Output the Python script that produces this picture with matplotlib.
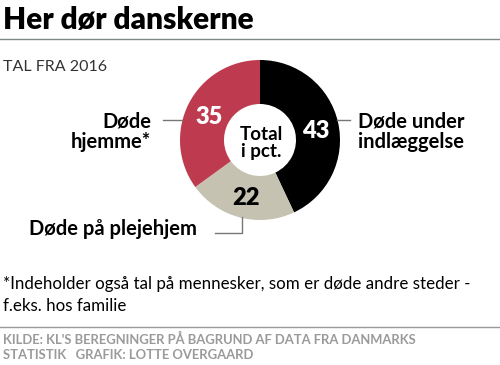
import numpy as np
import matplotlib.pyplot as plt

plt.rcParams['font.family'] = ['Lato', 'DejaVu Sans']

# data
kategorier = ['Døde under\nindlæggelse', 'Døde på plejehjem', 'Døde\nhjemme*']
andele = [43, 22, 35]
farver = ['#000000', '#c5c2b1', '#be3b4f']
tal_farver = ['white', 'black', 'white']

H = 365
def Y(y):
    return H - y

fig = plt.figure(figsize=(5, 3.65), dpi=100)
ax = fig.add_axes([0, 0, 1, 1])

cx, cy, R = 260, 140, 80
wedges, _ = ax.pie(andele, colors=farver, startangle=90, counterclock=False,
                   radius=R, center=(cx, Y(cy)), wedgeprops=dict(width=44, linewidth=0))
ax.set_xlim(0, 500); ax.set_ylim(0, H); ax.axis('off')

for w, v, c in zip(wedges, andele, tal_farver):
    a = np.deg2rad((w.theta1 + w.theta2) / 2)
    ax.text(cx + 57 * np.cos(a), Y(cy) + 57 * np.sin(a) - 3, str(v), color=c,
            fontsize=17, fontweight='heavy', ha='center', va='center')

ax.text(cx + 1, Y(cy + 3), 'Total\ni pct.', fontsize=13.5, fontweight='bold',
        ha='center', va='center', linespacing=1.0)

# labels and leader lines
ax.text(358, Y(132), kategorier[0], fontsize=14.5, fontweight='bold', ha='left', va='center', linespacing=1.0)
ax.plot([337, 350], [Y(120), Y(120)], color='#777777', lw=1)
ax.text(151, Y(132), kategorier[2], fontsize=14.5, fontweight='bold', ha='right', va='center', linespacing=1.0)
ax.plot([163, 182], [Y(120), Y(120)], color='#777777', lw=1)
ax.text(197, Y(229), kategorier[1], fontsize=14.5, fontweight='bold', ha='right', va='center')
ax.plot([215, 242, 242], [Y(233), Y(233), Y(217)], color='#777777', lw=1)

# header
ax.text(3, Y(20), 'Her dør danskerne', fontsize=21.5, fontweight='heavy', ha='left', va='center')
ax.plot([0, 500], [Y(39), Y(39)], color='#7f8a86', lw=1)
ax.text(3, Y(67), 'TAL FRA 2016', fontsize=11.5, color='#333333', ha='left', va='center')

# footnote
ax.text(3, Y(295), '*Indeholder også tal på mennesker, som er døde andre steder -\nf.eks. hos familie',
        fontsize=12.2, ha='left', va='center', linespacing=1.4)
ax.plot([0, 500], [Y(327), Y(327)], color='#999999', lw=1)
ax.text(3, Y(347), "KILDE: KL'S BEREGNINGER PÅ BAGRUND AF DATA FRA DANMARKS\nSTATISTIK   GRAFIK: LOTTE OVERGAARD",
        fontsize=9.4, fontweight='bold', color='#9a9a9a', ha='left', va='center', linespacing=1.25)

fig.savefig('out.png', dpi=100)
